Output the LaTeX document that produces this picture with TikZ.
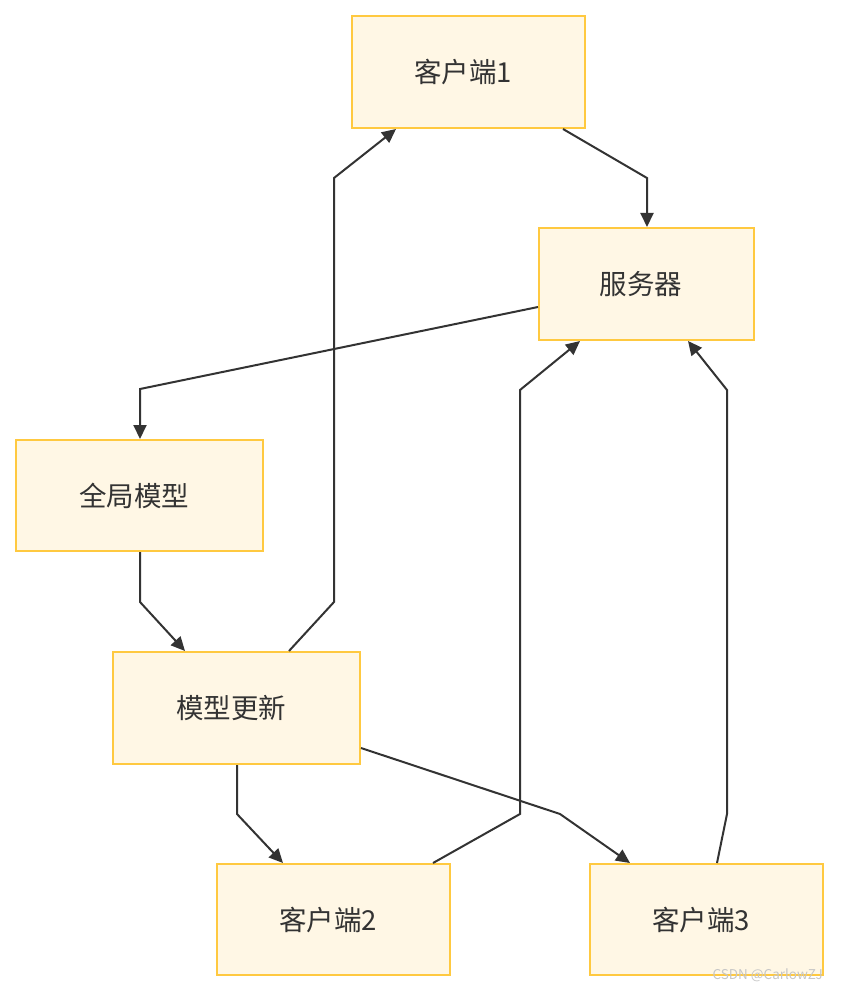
\documentclass[tikz,border=0pt]{standalone}
\usepackage{fontspec}
\setmainfont{Noto Sans CJK SC}
\usetikzlibrary{arrows.meta}
\definecolor{boxfill}{HTML}{FFF7E5}
\definecolor{boxline}{HTML}{FFC940}
\definecolor{edge}{HTML}{333333}
\tikzset{
  box/.style={draw=boxline, line width=2pt, fill=boxfill, rectangle, inner sep=0pt,
    text=edge, font=\fontsize{27.5}{32}\selectfont},
  conn/.style={draw=edge, line width=2pt, -{Triangle[length=14pt,width=13pt]}}
}
\newcommand{\lbl}[1]{\hspace*{-11pt}#1}
\begin{document}
\begin{tikzpicture}[x=1pt,y=-1pt]
\useasboundingbox (0,0) rectangle (840,992);
\node[box, minimum width=233pt, minimum height=112pt] (c1) at (468.5,72) {\lbl{客户端1}};
\node[box, minimum width=215pt, minimum height=112pt] (srv) at (646.5,284) {\lbl{服务器}};
\node[box, minimum width=247pt, minimum height=111pt] (gm) at (139.5,495.5) {\lbl{全局模型}};
\node[box, minimum width=247pt, minimum height=112pt] (mu) at (236.5,708) {\lbl{模型更新}};
\node[box, minimum width=233pt, minimum height=111pt] (c2) at (333.5,919.5) {\lbl{客户端2}};
\node[box, minimum width=233pt, minimum height=111pt] (c3) at (706.5,919.5) {\lbl{客户端3}};
\node[text=gray!45, font=\fontsize{13.5}{15}\selectfont, anchor=east, inner sep=0pt] (wm) at (823,975) {CSDN @CarlowZJ};

\draw[conn] (c1.south -| 563,0) -- (647,178) -- (srv.north -| 647,0);
\draw[conn] (srv.west |- 0,307) -- (140,389) -- (gm.north -| 140,0);
\draw[conn] (gm.south -| 140,0) -- (140,602) -- (mu.north -| 185,0);
\draw[conn] (mu.north -| 289,0) -- (334,602) -- (334,178) -- (c1.south -| 396,0);
\draw[conn] (mu.south -| 237,0) -- (237,814) -- (c2.north -| 283,0);
\draw[conn] (mu.east |- 0,748) -- (560,814) -- (c3.north -| 630,0);
\draw[conn] (c2.north -| 433,0) -- (520,814) -- (520,390) -- (srv.south -| 580,0);
\draw[conn] (c3.north -| 717,0) -- (727,814) -- (727,390) -- (srv.south -| 688,0);
\end{tikzpicture}
\end{document}
